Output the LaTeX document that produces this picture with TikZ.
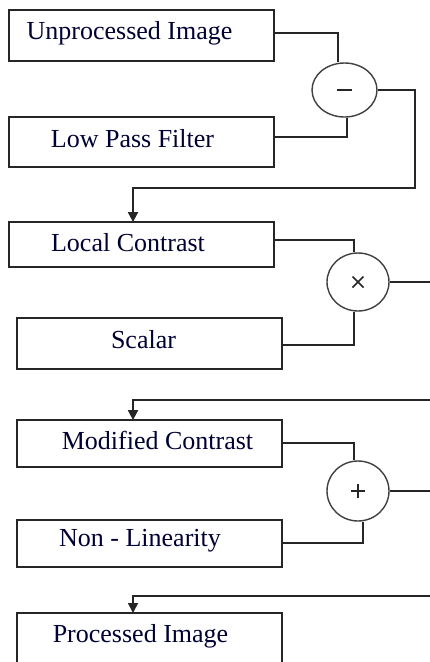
\documentclass[tikz,border=0pt]{standalone}
\usepackage{fontspec}
\setmainfont{Liberation Serif}
\usetikzlibrary{arrows.meta,shapes.geometric}
\begin{document}
\begin{tikzpicture}[x=1pt,y=-1pt,
  box/.style={draw=black!85,line width=1.8pt,rectangle,inner sep=0pt},
  lbl/.style={font=\fontsize{26}{28}\selectfont,text=black!80!blue,inner sep=0pt},
  op/.style={draw=black!75,line width=1.4pt,ellipse,inner sep=0pt,font=\fontsize{26}{28}\selectfont},
  wire/.style={draw=black!85,line width=1.7pt},
  arr/.style={wire,-{Triangle[width=10pt,length=10pt]}}]
\useasboundingbox (0,0) rectangle (429,662);
\fill[white] (0,0) rectangle (429,662);

% input boxes
\node[box,minimum width=265pt,minimum height=51pt] (b1) at (141.5,35.5) {};
\node[box,minimum width=265pt,minimum height=50pt] (b2) at (141.5,142) {};
\node[box,minimum width=265pt,minimum height=45pt] (b3) at (141.5,244.5) {};
\node[box,minimum width=265pt,minimum height=51pt] (b4) at (149.5,343.5) {};
\node[box,minimum width=265pt,minimum height=47pt] (b5) at (149.5,443.5) {};
\node[box,minimum width=265pt,minimum height=47pt] (b6) at (149.5,543.5) {};
\draw[box] (17,680) |- (282,613) -- (282,680);
\coordinate (b7) at (133,613);

% labels
\node[lbl] (t1) at (129.5,33) {Unprocessed Image};
\node[lbl] (t2) at (132.5,139) {Low Pass Filter};
\node[lbl] (t3) at (128,243) {Local Contrast};
\node[lbl] (t4) at (143.5,340) {Scalar};
\node[lbl] (t5) at (157.5,440) {Modified Contrast};
\node[lbl] (t6) at (140,541) {Non - Linearity};
\node[lbl] (t7) at (140.5,636) {Processed Image};

% operators
\node[op,minimum width=65pt,minimum height=54pt] (o1) at (344.5,90) {};
\node[op,minimum width=62pt,minimum height=58pt] (o2) at (358,282) {};
\node[op,minimum width=62pt,minimum height=60pt] (o3) at (358,491) {};
% operator signs
\draw[line width=1.8pt,black!85] ([xshift=-7.5pt]o1.center) -- ([xshift=7.5pt]o1.center);
\draw[line width=1.5pt,black!85] ([shift={(-5.5pt,-5.5pt)}]o2.center) -- ([shift={(5.5pt,5.5pt)}]o2.center)
  ([shift={(-5.5pt,5.5pt)}]o2.center) -- ([shift={(5.5pt,-5.5pt)}]o2.center);
\draw[line width=1.5pt,black!85] ([xshift=-7pt]o3.center) -- ([xshift=7pt]o3.center)
  ([yshift=-7pt]o3.center) -- ([yshift=7pt]o3.center);

% off-edge ends
\coordinate (e1) at (431,282);
\coordinate (e2) at (431,400);
\coordinate (e3) at (431,491);
\coordinate (e4) at (431,596);

% wiring
\draw[wire] (b1.east |- 0,33) -| (o1.north -| 338,0);
\draw[wire] (b2.east |- 0,137) -| (o1.south -| 347,0);
\draw[arr] (o1.east) -| (415,188) -| ([yshift=-1pt]b3.north -| 133,0);
\draw[wire] (b3.east |- 0,240) -| (o2.north -| 354,0);
\draw[wire] (b4.east |- 0,345) -| (o2.south -| 354,0);
\draw[wire] (o2.east) -- (e1);
\draw[arr] (e2) -| ([yshift=-1pt]b5.north -| 133,0);
\draw[wire] (b5.east |- 0,443) -| (o3.north -| 354,0);
\draw[wire] (b6.east |- 0,543) -| (o3.south -| 363,0);
\draw[wire] (o3.east) -- (e3);
\draw[arr] (e4) -| (b7);
\end{tikzpicture}
\end{document}
